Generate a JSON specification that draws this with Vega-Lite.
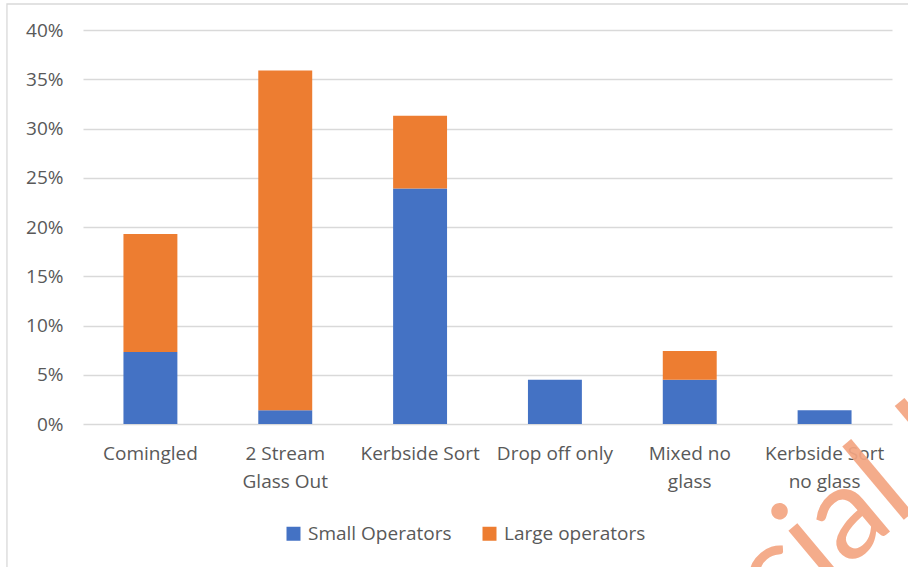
{
  "$schema": "https://vega.github.io/schema/vega-lite/v6.json",
  "width": 809,
  "height": 394,
  "autosize": {"type": "none"},
  "padding": {"left": 83, "top": 30, "right": 16, "bottom": 143},
  "background": "white",
  "config": {
    "view": {"stroke": null},
    "font": "Open Sans"
  },
  "data": {
    "values": [
      {"scheme": "Comingled", "series": "Small Operators", "share": 0.073},
      {"scheme": "Comingled", "series": "Large operators", "share": 0.120},
      {"scheme": "2 Stream Glass Out", "series": "Small Operators", "share": 0.014},
      {"scheme": "2 Stream Glass Out", "series": "Large operators", "share": 0.345},
      {"scheme": "Kerbside Sort", "series": "Small Operators", "share": 0.239},
      {"scheme": "Kerbside Sort", "series": "Large operators", "share": 0.074},
      {"scheme": "Drop off only", "series": "Small Operators", "share": 0.045},
      {"scheme": "Mixed no glass", "series": "Small Operators", "share": 0.045},
      {"scheme": "Mixed no glass", "series": "Large operators", "share": 0.029},
      {"scheme": "Kerbside Sort no glass", "series": "Small Operators", "share": 0.014}
    ]
  },
  "layer": [
    {
      "mark": {"type": "bar"},
      "encoding": {
        "x": {
          "field": "scheme",
          "type": "nominal",
          "sort": null,
          "scale": {"paddingInner": 0.6, "paddingOuter": 0.3},
          "axis": {
            "title": null,
            "labelAngle": 0,
            "labelFontSize": 19,
            "labelColor": "#595959",
            "labelPadding": 20,
            "labelLineHeight": 28,
            "labelLimit": 200,
            "ticks": false,
            "domain": false,
            "grid": false,
            "labelExpr": "datum.value == '2 Stream Glass Out' ? ['2 Stream', 'Glass Out'] : datum.value == 'Mixed no glass' ? ['Mixed no', 'glass'] : datum.value == 'Kerbside Sort no glass' ? ['Kerbside Sort', 'no glass'] : datum.value"
          }
        },
        "y": {
          "field": "share",
          "type": "quantitative",
          "stack": "zero",
          "scale": {"domain": [0, 0.4], "nice": false},
          "axis": {
            "title": null,
            "values": [0, 0.05, 0.1, 0.15, 0.2, 0.25, 0.3, 0.35, 0.4],
            "format": ".0%",
            "labelFontSize": 19,
            "labelColor": "#595959",
            "labelPadding": 20,
            "ticks": false,
            "domain": false,
            "grid": true,
            "gridColor": "#D9D9D9",
            "gridWidth": 1.3
          }
        },
        "color": {
          "field": "series",
          "type": "nominal",
          "scale": {
            "domain": ["Small Operators", "Large operators"],
            "range": ["#4472C4", "#ED7D31"]
          },
          "legend": {
            "title": null,
            "orient": "none",
            "direction": "horizontal",
            "legendX": 201,
            "legendY": 494,
            "symbolType": "square",
            "symbolSize": 196,
            "symbolStrokeWidth": 0,
            "labelFontSize": 19,
            "labelColor": "#595959",
            "labelOffset": 5,
            "columnPadding": 28
          }
        },
        "order": {"field": "series", "sort": "descending"}
      }
    },
    {
      "data": {"values": [{"frame": "chart"}]},
      "mark": {"type": "rect", "fill": null, "stroke": "#D9D9D9", "strokeWidth": 1.3},
      "encoding": {
        "x": {"datum": -0.094, "type": "quantitative", "scale": {"domain": [0, 1]}, "axis": null},
        "x2": {"datum": 1.3},
        "y": {"datum": 0.4264, "type": "quantitative", "scale": {"domain": [0, 0.4], "nice": false}},
        "y2": {"datum": -0.3}
      }
    },
    {
      "data": {"values": [{"stamp": "Commercial In Confidence"}]},
      "mark": {
        "type": "text",
        "align": "left",
        "baseline": "alphabetic",
        "angle": -40,
        "fontSize": 130,
        "font": "Lato",
        "fill": "#F4A582",
        "opacity": 0.92
      },
      "encoding": {
        "text": {"field": "stamp", "type": "nominal"},
        "x": {"datum": 0.3956, "type": "quantitative", "scale": {"domain": [0, 1]}, "axis": null},
        "y": {"datum": -0.524, "type": "quantitative", "scale": {"domain": [0, 0.4], "nice": false}}
      }
    }
  ],
  "resolve": {"scale": {"x": "independent"}}
}
